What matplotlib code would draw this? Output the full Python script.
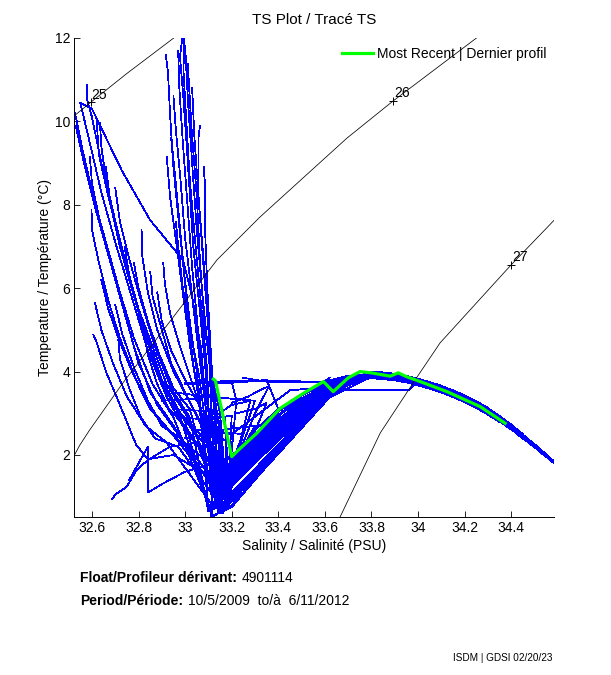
import matplotlib
matplotlib.use("Agg")
import matplotlib.pyplot as plt
from matplotlib.ticker import FixedLocator, FixedFormatter
from matplotlib.lines import Line2D

plt.rcParams['font.family'] = ['Liberation Sans', 'DejaVu Sans']

# ---------------- isopycnals (sigma-theta) ----------------
sig25_S = [32.50, 32.523, 32.595, 32.75, 32.97]
sig25_T = [10.02, 10.13, 10.46, 11.15, 12.08]
sig26_S = [32.52, 32.548, 32.59, 32.733, 33.137, 33.322, 33.695, 33.893, 34.27]
sig26_T = [1.95, 2.24, 2.60, 3.73, 6.68, 7.71, 9.60, 10.49, 12.08]
sig27_S = [33.66, 33.838, 33.996, 34.095, 34.40, 34.60]
sig27_T = [0.45, 2.53, 3.87, 4.69, 6.56, 7.72]
sigma_labels = ['25', '26', '27']
label_S = [32.595, 33.893, 34.40]
label_T = [10.46, 10.49, 6.56]

# ---------------- profiles: surface parts ----------------
warm_vertical = [
    [(32.988, 12.03), (32.978, 11.55), (32.992, 10.6), (33.007, 9.4), (33.021, 8.2), (33.035, 7.0), (33.064, 5.4), (33.085, 4.2), (33.10, 3.2)],
    [(32.917, 11.59), (32.926, 11.2), (32.935, 10.2), (32.948, 9.0), (32.969, 7.8), (32.991, 6.6), (33.012, 5.4), (33.034, 4.2), (33.07, 3.0)],
    [(33.011, 11.39), (33.028, 9.8), (33.05, 8.2), (33.064, 6.6), (33.085, 5.0), (33.107, 4.2), (33.11, 3.0)],
    [(33.064, 9.9), (33.057, 9.6), (33.057, 8.2), (33.078, 6.6), (33.10, 5.0), (33.11, 3.6)],
    [(32.921, 9.15), (32.935, 8.2), (32.964, 7.0), (32.992, 5.8), (33.021, 4.6), (33.06, 3.3)],
    [(32.906, 6.6), (32.913, 6.1), (32.935, 5.4), (32.978, 4.6), (33.05, 3.4)],
    [(32.97, 11.7), (32.975, 10.8), (32.99, 9.5), (33.01, 8.0), (33.03, 6.5), (33.055, 5.0), (33.08, 3.8)],
    [(32.995, 12.05), (32.993, 11.2), (33.005, 10.0), (33.02, 8.6), (33.045, 7.0), (33.07, 5.5), (33.095, 4.0)],
    [(33.00, 11.8), (33.012, 10.5), (33.03, 9.0), (33.05, 7.4), (33.075, 5.8), (33.10, 4.4)],
    [(32.95, 10.6), (32.96, 9.8), (32.98, 8.6), (33.00, 7.2), (33.03, 5.8), (33.06, 4.4)],
    [(33.08, 8.9), (33.085, 8.5), (33.085, 7.5), (33.095, 6.0), (33.11, 4.5)],
    [(32.94, 9.6), (32.955, 8.8), (32.975, 7.6), (32.995, 6.4), (33.02, 5.2), (33.05, 4.0)],
    [(33.03, 10.8), (33.04, 9.6), (33.06, 8.0), (33.08, 6.6), (33.10, 5.2), (33.115, 3.9)],
    [(32.96, 7.6), (32.97, 7.0), (32.99, 6.0), (33.02, 5.0), (33.06, 3.9)],
    [(32.55, 10.45), (32.60, 10.3), (32.73, 8.8), (32.85, 7.63), (32.99, 6.68), (33.03, 5.8), (33.07, 4.5)],
    [(32.813, 7.4), (32.815, 6.8), (32.84, 5.9), (32.88, 5.0), (32.95, 4.0)],
]
diagonal = [
    [(32.527, 10.2), (32.56, 9.3), (32.61, 8.1), (32.66, 7.0), (32.72, 5.8), (32.78, 4.6), (32.85, 3.5), (32.95, 2.7)],
    [(32.55, 10.44), (32.59, 9.5), (32.64, 8.3), (32.70, 7.1), (32.77, 5.8), (32.84, 4.5), (32.92, 3.4), (33.00, 2.6)],
    [(32.58, 10.87), (32.58, 10.5), (32.60, 10.1), (32.64, 9.0), (32.69, 7.8), (32.75, 6.5), (32.82, 5.1), (32.90, 3.8), (32.98, 2.9)],
    [(32.634, 9.96), (32.64, 9.4), (32.66, 8.6), (32.70, 7.6), (32.75, 6.5), (32.81, 5.2), (32.88, 4.0), (32.96, 3.1)],
    [(32.591, 9.15), (32.60, 8.5), (32.63, 7.7), (32.67, 6.9), (32.72, 5.9), (32.78, 4.8), (32.86, 3.7), (32.95, 2.9)],
    [(32.53, 9.9), (32.57, 8.9), (32.62, 7.8), (32.68, 6.6), (32.74, 5.4), (32.80, 4.2), (32.88, 3.2), (32.97, 2.5)],
    [(32.62, 10.0), (32.63, 9.2), (32.67, 8.2), (32.72, 7.1), (32.78, 5.9), (32.84, 4.7), (32.91, 3.6), (33.00, 2.8)],
    [(32.598, 7.87), (32.60, 7.4), (32.63, 6.6), (32.67, 5.7), (32.72, 4.8), (32.79, 3.8), (32.87, 3.0), (32.96, 2.4)],
    [(32.613, 5.64), (32.64, 5.0), (32.69, 4.2), (32.75, 3.4), (32.83, 2.7), (32.92, 2.3)],
    [(32.606, 4.88), (32.62, 4.7), (32.66, 4.0), (32.72, 3.2), (32.79, 2.24), (32.84, 1.9), (32.95, 2.0)],
    [(32.713, 4.76), (32.72, 4.3), (32.76, 3.6), (32.81, 2.9), (32.87, 2.4), (32.97, 2.2)],
    [(32.66, 8.9), (32.68, 8.0), (32.72, 7.0), (32.77, 6.0), (32.83, 4.9), (32.90, 3.8), (32.98, 3.0)],
    [(32.70, 8.4), (32.72, 7.6), (32.76, 6.7), (32.81, 5.7), (32.87, 4.6), (32.94, 3.6), (33.02, 2.9)],
    [(32.74, 7.0), (32.76, 6.3), (32.80, 5.5), (32.86, 4.6), (32.92, 3.7), (33.00, 3.0)],
    [(32.78, 6.6), (32.80, 6.0), (32.84, 5.2), (32.89, 4.4), (32.95, 3.6), (33.02, 3.1)],
    [(32.85, 6.4), (32.86, 5.8), (32.90, 5.0), (32.94, 4.2), (33.00, 3.5)],
    [(32.88, 5.9), (32.90, 5.2), (32.94, 4.5), (33.00, 3.8), (33.06, 3.2)],
    [(32.64, 6.2), (32.67, 5.5), (32.72, 4.7), (32.78, 3.9), (32.85, 3.1), (32.93, 2.6)],
    [(32.687, 0.95), (32.70, 1.05), (32.749, 1.24), (32.792, 1.64), (32.84, 1.88), (32.935, 2.2), (33.05, 2.3)],
    [(32.70, 5.6), (32.73, 4.9), (32.78, 4.1), (32.84, 3.3), (32.90, 2.7), (32.98, 2.4)],
    [(32.82, 5.0), (32.84, 4.4), (32.88, 3.7), (32.93, 3.1), (33.00, 2.7)],
    [(32.76, 1.4), (32.78, 1.6), (32.84, 2.2), (32.84, 1.1), (32.90, 1.3), (33.00, 1.6)],
]
winter = [
    [(32.95, 3.1), (33.10, 3.05), (33.15, 2.2)],
    [(33.00, 3.7), (33.20, 3.75), (33.22, 3.3)],
    [(32.90, 3.3), (33.05, 3.35), (33.10, 2.5)],
    [(33.10, 3.7), (33.25, 3.75), (33.35, 3.8), (33.40, 3.1), (33.30, 2.6)],
    [(33.15, 2.6), (33.30, 2.7), (33.25, 2.2)],
    [(33.12, 2.9), (33.20, 3.2), (33.28, 3.3), (33.24, 2.4)],
    [(32.98, 2.9), (33.10, 2.85), (33.20, 2.95)],
    [(33.05, 2.6), (33.15, 2.55), (33.25, 2.5)],
    [(33.12, 3.8), (33.13, 3.5), (33.15, 3.0)],
    [(33.08, 3.6), (33.12, 3.3), (33.16, 2.5)],
    [(33.20, 3.25), (33.27, 3.4), (33.32, 3.55), (33.36, 3.65), (33.30, 3.0)],
    [(33.00, 2.4), (33.10, 2.5), (33.20, 2.3)],
    [(32.95, 3.5), (33.10, 3.4), (33.30, 3.3), (33.25, 2.5)],
    [(33.22, 3.0), (33.30, 3.1), (33.35, 3.25), (33.28, 2.3)],
]
mixed = [
    [(33.10, 2.6), (33.12, 2.0)],
    [(33.15, 2.4), (33.16, 1.6)],
    [(33.08, 2.2), (33.10, 1.5)],
    [(33.12, 2.8), (33.15, 2.1)],
    [(33.18, 2.5), (33.17, 1.7)],
    [(33.10, 1.9), (33.12, 1.2)],
    [(33.14, 2.1), (33.15, 1.6)],
    [(33.20, 2.7), (33.19, 2.0)],
    [(33.16, 2.3), (33.15, 1.4)],
    [(33.09, 2.5), (33.11, 1.8)],
    [(33.13, 1.8), (33.14, 1.3)],
    [(33.17, 2.9), (33.18, 2.0)],
]

# ---------------- profiles: subsurface key points (one per profile) ----------------
# temperature minimum (cold intermediate layer)
cil_S = [33.12, 33.10, 33.15, 33.13, 33.09, 33.14, 33.16, 33.11, 33.17, 33.12, 33.15, 33.10, 33.18, 33.13, 33.11, 33.16,
         33.14, 33.17, 33.10, 33.18, 33.12, 33.15, 33.08, 33.19, 33.11, 33.16, 33.13, 33.20, 33.10, 33.15, 33.12, 33.17,
         33.14, 33.11, 33.16, 33.09, 33.18, 33.13,
         33.17, 33.19, 33.15, 33.20, 33.18, 33.16, 33.19, 33.20, 33.17, 33.15, 33.21, 33.18, 33.20, 33.19,
         33.13, 33.16, 33.12, 33.18, 33.15, 33.11, 33.17, 33.20, 33.14, 33.15, 33.13, 33.18]
cil_T = [1.1, 0.7, 1.5, 0.9, 1.3, 1.6, 0.8, 1.2, 1.0, 1.7, 0.6, 1.4, 1.2, 0.9, 1.5, 1.8,
         1.0, 1.4, 0.75, 1.6, 0.55, 1.2, 1.1, 1.5, 0.85, 1.3, 0.95, 1.7, 0.65, 1.25, 1.05, 1.55,
         0.9, 1.35, 0.6, 1.45, 1.15, 1.8,
         1.6, 1.5, 1.2, 1.7, 1.4, 1.1, 1.8, 1.45, 1.55, 1.0, 1.75, 1.05, 1.5, 1.85,
         0.9, 0.6, 0.8, 1.1, 0.7, 0.5, 0.95, 1.25, 0.65, 1.0, 0.75, 0.85]
# base of the thermocline wedge
base_S = [33.20, 33.19, 33.21, 33.20, 33.22, 33.21, 33.20, 33.22, 33.21, 33.20, 33.20, 33.22, 33.21, 33.20, 33.23, 33.20,
          33.21, 33.20, 33.22, 33.21, 33.20, 33.22, 33.21, 33.20, 33.20, 33.22, 33.21, 33.21, 33.20, 33.22, 33.20, 33.21,
          33.22, 33.21, 33.19, 33.20, 33.22, 33.20,
          33.21, 33.22, 33.20, 33.23, 33.22, 33.21, 33.20, 33.23, 33.21, 33.20, 33.23, 33.21, 33.24, 33.22,
          33.21, 33.20, 33.20, 33.22, 33.21, 33.20, 33.21, 33.23, 33.20, 33.22, 33.21, 33.22]
base_T = [1.45, 0.95, 1.75, 1.35, 1.60, 1.85, 1.05, 1.50, 1.40, 1.95, 0.80, 1.70, 1.55, 1.30, 1.80, 2.00,
          1.38, 1.72, 1.42, 1.90, 0.75, 1.58, 1.48, 1.82, 1.00, 1.65, 1.33, 1.98, 0.90, 1.62, 1.44, 1.78,
          1.36, 1.68, 0.85, 1.74, 1.52, 1.93,
          1.88, 1.76, 1.50, 1.92, 1.66, 1.40, 1.97, 1.70, 1.80, 1.34, 1.86, 1.46, 1.73, 1.95,
          1.32, 0.95, 1.10, 1.54, 1.15, 0.78, 1.40, 1.64, 0.88, 1.56, 1.37, 1.60]
mid_S = [33.61, 33.60, 33.62, 33.60, 33.59, 33.61, 33.60, 33.61, 33.62, 33.60, 33.62, 33.59, 33.61, 33.60, 33.62, 33.61,
         33.60, 33.62, 33.60, 33.61, 33.60, 33.62, 33.59, 33.60, 33.61, 33.60, 33.62, 33.61, 33.60, 33.61, 33.60, 33.62,
         33.60, 33.61, 33.61, 33.60, 33.62, 33.60,
         33.61, 33.62, 33.60, 33.61, 33.62, 33.60, 33.62, 33.61, 33.60, 33.61, 33.60, 33.62, 33.61, 33.60,
         33.61, 33.60, 33.62, 33.60, 33.61, 33.60, 33.62, 33.60, 33.61, 33.60, 33.62, 33.61]
mid_T = [3.55, 3.42, 3.66, 3.52, 3.60, 3.69, 3.44, 3.57, 3.54, 3.73, 3.38, 3.64, 3.58, 3.50, 3.68, 3.75,
         3.53, 3.65, 3.54, 3.71, 3.37, 3.59, 3.56, 3.68, 3.43, 3.62, 3.51, 3.74, 3.40, 3.61, 3.55, 3.67,
         3.52, 3.63, 3.39, 3.66, 3.57, 3.72,
         3.70, 3.66, 3.57, 3.72, 3.62, 3.54, 3.74, 3.64, 3.68, 3.52, 3.70, 3.56, 3.65, 3.73,
         3.51, 3.42, 3.46, 3.58, 3.47, 3.38, 3.54, 3.62, 3.40, 3.59, 3.53, 3.60]
# subsurface temperature maximum
top_S = [33.74, 33.78, 33.72, 33.80, 33.76, 33.82, 33.73, 33.79, 33.75, 33.77, 33.81, 33.74, 33.78, 33.72, 33.80, 33.76,
         33.75, 33.79, 33.73, 33.81, 33.77, 33.74, 33.80, 33.76, 33.72, 33.78, 33.82, 33.75, 33.79, 33.73, 33.77, 33.81,
         33.74, 33.78, 33.76, 33.80, 33.72, 33.75,
         33.77, 33.73, 33.79, 33.75, 33.81, 33.74, 33.78, 33.76, 33.72, 33.80, 33.75, 33.79, 33.73, 33.77,
         33.78, 33.74, 33.80, 33.76, 33.72, 33.79, 33.75, 33.81, 33.73, 33.77, 33.74, 33.78]
top_T = [3.88, 3.92, 3.84, 3.95, 3.90, 3.93, 3.86, 3.96, 3.82, 3.94, 3.90, 3.87, 3.93, 3.80, 3.97, 3.89,
         3.85, 3.94, 3.83, 3.92, 3.88, 3.86, 3.96, 3.90, 3.81, 3.93, 3.91, 3.87, 3.95, 3.84, 3.89, 3.94,
         3.86, 3.92, 3.88, 3.96, 3.82, 3.90,
         3.91, 3.85, 3.95, 3.87, 3.93, 3.84, 3.92, 3.89, 3.83, 3.96, 3.86, 3.94, 3.85, 3.90,
         3.92, 3.86, 3.95, 3.88, 3.83, 3.94, 3.87, 3.91, 3.84, 3.90, 3.86, 3.93]
# offset of each profile from the common deep T-S curve, and its deepest salinity
deep_off = [-0.02, -0.08, 0.03, -0.05, 0.00, -0.10, -0.03, 0.04, -0.06, -0.01, -0.09, 0.02, -0.04, -0.07, 0.01, -0.03,
            -0.11, 0.00, -0.05, 0.05, -0.02, -0.08, -0.01, 0.03, -0.06, -0.03, -0.10, 0.01, -0.04, -0.07, 0.02, -0.02,
            -0.09, 0.00, -0.05, 0.04, -0.03, -0.08,
            -0.01, -0.06, 0.03, -0.02, -0.11, -0.04, 0.01, -0.07, -0.03, 0.02, -0.09, -0.01, -0.05, 0.05,
            -0.02, -0.08, 0.00, -0.06, -0.03, -0.10, 0.02, -0.04, -0.07, -0.01, 0.03, -0.05]
deep_end = [34.58, 34.45, 34.40, 34.55, 34.58, 34.35, 34.58, 34.30, 34.50, 34.58, 34.40, 34.50, 34.58, 34.45, 34.58, 34.55,
            34.30, 34.58, 34.55, 34.25, 34.58, 34.40, 34.58, 34.45, 34.50, 34.58, 34.35, 34.58, 34.55, 34.45, 34.50, 34.58,
            34.40, 34.58, 34.55, 34.35, 34.58, 34.45,
            34.58, 34.50, 34.40, 34.58, 34.35, 34.55, 34.58, 34.45, 34.58, 34.50, 34.40, 34.58, 34.55, 34.30,
            34.58, 34.45, 34.58, 34.50, 34.58, 34.35, 34.55, 34.58, 34.45, 34.58, 34.45, 34.55]

# common deep T-S relation
deep_S = [33.80, 33.85, 33.90, 33.95, 34.00, 34.05, 34.10, 34.15, 34.20, 34.25, 34.30, 34.35, 34.40, 34.45, 34.50, 34.55, 34.58]
deep_T = [3.95, 3.93, 3.90, 3.85, 3.78, 3.70, 3.61, 3.50, 3.38, 3.24, 3.08, 2.90, 2.70, 2.47, 2.24, 2.00, 1.86]

# profiles with gaps (straight joins) and upper-wedge profiles
partial = [
    [(33.00, 3.72), (33.20, 3.78), (33.60, 3.76), (33.70, 3.90), (33.90, 3.88), (34.10, 3.60), (34.30, 3.08)],
    [(33.25, 3.85), (33.36, 3.75), (33.60, 3.74), (33.63, 3.60), (33.72, 3.88)],
    [(33.55, 3.56), (33.96, 3.56), (34.00, 3.76), (34.20, 3.36)],
    [(33.10, 2.55), (33.20, 2.50), (33.45, 3.55), (33.55, 3.60), (33.62, 3.85)],
    [(33.20, 1.99), (33.30, 2.46), (33.40, 3.04), (33.50, 3.42), (33.60, 3.70), (33.70, 3.90), (33.80, 3.93)],
    [(33.21, 1.97), (33.32, 2.50), (33.42, 3.02), (33.52, 3.40), (33.62, 3.66), (33.74, 3.92)],
    [(33.20, 1.94), (33.28, 2.30), (33.38, 2.88), (33.48, 3.30), (33.60, 3.64), (33.76, 3.90)],
]

# most recent profile
recent_S = [33.121, 33.13, 33.20, 33.229, 33.307, 33.408, 33.508, 33.594, 33.636, 33.70, 33.751, 33.80, 33.84,
            33.88, 33.915, 33.95, 34.00, 34.124, 34.267, 34.374]
recent_T = [3.82, 3.78, 1.96, 2.12, 2.52, 3.12, 3.48, 3.76, 3.52, 3.85, 4.00, 3.97, 3.93,
            3.89, 3.97, 3.88, 3.78, 3.52, 3.16, 2.76]

x_ticks = [32.6, 32.8, 33.0, 33.2, 33.4, 33.6, 33.8, 34.0, 34.2, 34.4]
x_tick_labels = ['32.6', '32.8', '33', '33.2', '33.4', '33.6', '33.8', '34', '34.2', '34.4']
y_ticks = [2, 4, 6, 8, 10, 12]
y_tick_labels = ['2', '4', '6', '8', '10', '12']

float_id = '4901114'
period_text = '10/5/2009  to/\u00e0  6/11/2012'

# ---------------- figure ----------------
W, H = 611, 675
fig = plt.figure(figsize=(W / 100, H / 100), dpi=100)
ax = fig.add_axes([74.3 / W, 1 - 517 / H, (554 - 74.3) / W, (517 - 38) / H])

blue = (0, 0, 1)
LW = 0.55
surfaces = warm_vertical + diagonal + winter + mixed
for i, surf in enumerate(surfaces):
    S = [p[0] for p in surf] + [cil_S[i], base_S[i], mid_S[i], top_S[i]]
    T = [p[1] for p in surf] + [cil_T[i], base_T[i], mid_T[i], top_T[i]]
    for s, t in zip(deep_S, deep_T):
        if top_S[i] < s <= deep_end[i] + 1e-9:
            S.append(s)
            T.append(t + deep_off[i])
    ax.plot(S, T, color=blue, lw=LW, antialiased=False, zorder=2)

for prof in partial:
    ax.plot([p[0] for p in prof], [p[1] for p in prof], color=blue, lw=LW, antialiased=False, zorder=2)

for sS, sT in [(sig25_S, sig25_T), (sig26_S, sig26_T), (sig27_S, sig27_T)]:
    ax.plot(sS, sT, color='black', lw=0.55, zorder=3)
for lab, ls, lt in zip(sigma_labels, label_S, label_T):
    ax.plot([ls], [lt], marker='+', color='black', ms=6, mew=0.7, zorder=3)
    ax.annotate(lab, (ls, lt), xytext=(0.5, 0.5), textcoords='offset points',
                ha='left', va='bottom', fontsize=10, zorder=4)

ax.plot(recent_S, recent_T, color=(0, 1, 0), lw=2.3, zorder=5)

ax.set_xlim(32.524, 34.584)
ax.set_ylim(0.513, 12.0)
ax.xaxis.set_major_locator(FixedLocator(x_ticks))
ax.xaxis.set_major_formatter(FixedFormatter(x_tick_labels))
ax.yaxis.set_major_locator(FixedLocator(y_ticks))
ax.yaxis.set_major_formatter(FixedFormatter(y_tick_labels))
ax.tick_params(direction='in', length=4, width=0.6, labelsize=10, pad=3)
for side in ['top', 'right']:
    ax.spines[side].set_visible(False)
for side in ['left', 'bottom']:
    ax.spines[side].set_linewidth(0.7)

ax.set_title('TS Plot / Trac\u00e9 TS', fontsize=11, pad=10)
ax.set_xlabel('Salinity / Salinit\u00e9 (PSU)', fontsize=10, labelpad=3)
ax.set_ylabel('Temperature / Temp\u00e9rature (\u00b0C)', fontsize=10, labelpad=2)

handle = Line2D([], [], color=(0, 1, 0), lw=2.3)
fig.legend([handle], ['Most Recent | Dernier profil'], loc='center left',
           bbox_to_anchor=(342 / W, 1 - 54 / H), frameon=False, fontsize=10,
           handlelength=2.2, handletextpad=0.3, borderpad=0, borderaxespad=0)

fig.text(80 / W, 1 - 578 / H, 'Float/Profileur d\u00e9rivant:', fontsize=10, fontweight='bold', va='center')
fig.text(242 / W, 1 - 578 / H, float_id, fontsize=10, va='center')
fig.text(80 / W, 1 - 601 / H, 'Period/P\u00e9riode:', fontsize=10, fontweight='bold', va='center')
fig.text(188 / W, 1 - 601 / H, period_text, fontsize=10, va='center')
fig.text(453 / W, 1 - 658 / H, 'ISDM | GDSI 02/20/23', fontsize=7.2, va='center')

fig.savefig('out.png', dpi=100)
